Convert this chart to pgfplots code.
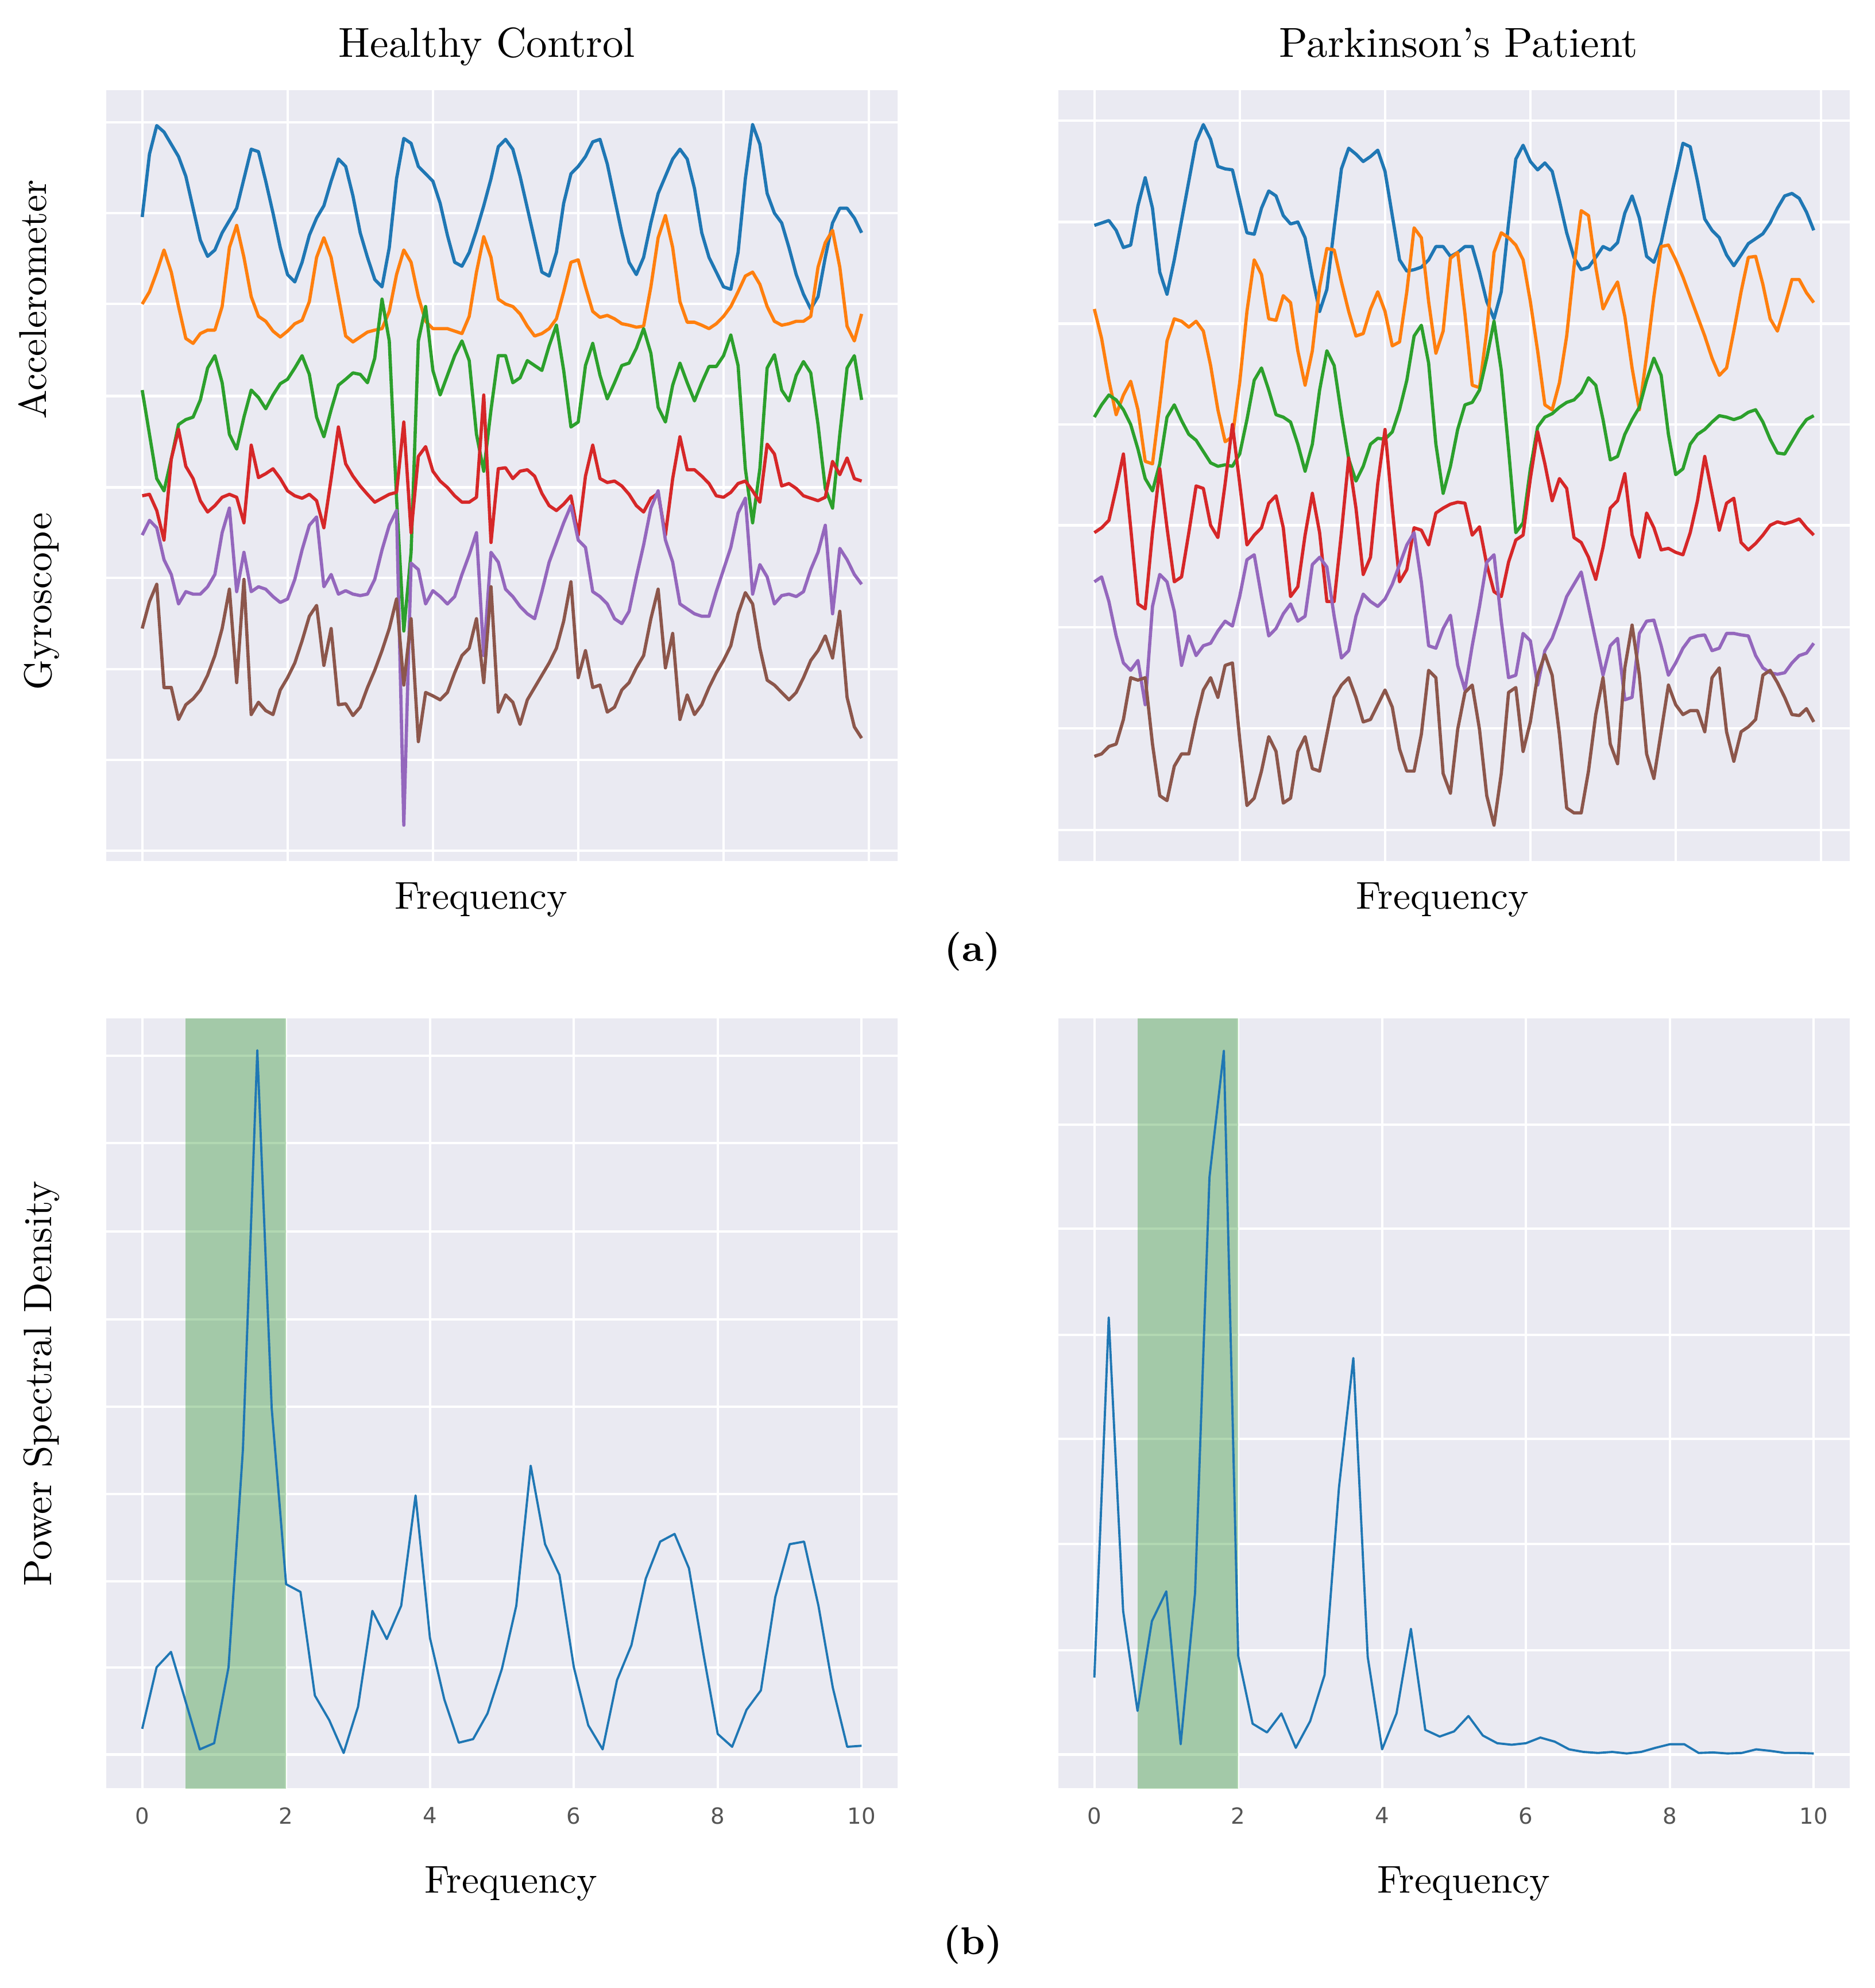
\documentclass[border=0pt]{standalone}
\usepackage{fontspec}
\usepackage{pgfplots}
\usepackage{pgfplotstable}
\pgfplotsset{compat=1.18}
\newfontfamily\dejavu{DejaVu Sans}
\definecolor{bgc}{HTML}{EAEAF2}
\definecolor{cb}{HTML}{1F77B4}
\definecolor{co}{HTML}{FF7F0E}
\definecolor{cg}{HTML}{2CA02C}
\definecolor{cr}{HTML}{D62728}
\definecolor{cp}{HTML}{9467BD}
\definecolor{cn}{HTML}{8C564B}
\definecolor{tickgray}{HTML}{555555}
\definecolor{bandg}{HTML}{008000}

\pgfplotstableread{
i b o g r p n
0 258 435 610 825 905 1095
1 130 410 700 822 875 1040
2 72 370 790 855 890 1005
3 85 325 815 915 955 1215
4 110 370 750 750 985 1215
5 135 440 680 690 1045 1280
6 175 505 670 765 1020 1250
7 240 515 665 790 1025 1238
8 305 495 630 835 1025 1220
9 338 488 565 858 1010 1190
10 325 488 540 845 985 1150
11 290 440 595 828 900 1095
12 265 320 700 822 850 1015
13 240 275 730 828 1020 1205
14 180 340 665 880 940 995
15 120 420 610 722 1020 1270
16 125 460 625 788 1010 1245
17 185 470 648 780 1015 1262
18 250 490 620 770 1030 1270
19 320 502 597 790 1042 1220
20 375 490 588 815 1035 1195
21 390 475 565 825 995 1165
22 350 468 540 830 935 1120
23 295 430 578 822 885 1070
24 260 340 665 835 868 1048
25 235 300 705 890 1010 1170
26 185 340 650 790 985 1095
27 140 420 600 685 1025 1250
28 155 500 588 760 1018 1248
29 215 512 575 785 1025 1272
30 290 502 578 805 1028 1255
31 340 492 595 822 1025 1215
32 385 488 545 838 995 1180
33 400 485 425 830 935 1140
34 320 450 510 822 885 1095
35 180 375 830 818 855 1035
36 98 325 1100 675 1495 1210
37 108 350 940 900 962 1075
38 155 420 510 745 975 1325
39 170 470 440 725 1045 1225
40 185 485 570 775 1018 1232
41 230 485 620 795 1030 1240
42 295 485 580 808 1045 1225
43 350 490 540 825 1030 1185
44 358 495 510 838 985 1150
45 330 460 550 838 945 1135
46 285 370 700 828 900 1075
47 235 298 775 620 1150 1205
48 180 340 650 920 940 1010
49 115 425 540 770 960 1265
50 100 435 540 768 1015 1230
51 120 440 595 790 1030 1245
52 175 455 585 775 1050 1290
53 240 480 550 772 1065 1240
54 305 500 560 785 1075 1215
55 370 495 570 820 1020 1190
56 378 485 520 845 960 1165
57 330 465 478 855 920 1135
58 230 410 570 842 880 1080
59 170 350 685 825 845 1000
60 155 345 675 905 915 1195
61 135 400 560 785 930 1140
62 105 450 515 722 1020 1215
63 100 462 580 790 1030 1210
64 150 458 628 798 1045 1265
65 220 465 595 795 1075 1255
66 290 475 560 805 1085 1220
67 350 478 555 822 1060 1205
68 375 482 525 845 990 1175
69 340 480 485 858 925 1150
70 270 400 535 830 850 1075
71 210 300 645 820 815 1015
72 175 255 675 905 915 1175
73 140 320 600 790 960 1105
74 120 430 555 705 1045 1280
75 140 472 595 772 1055 1230
76 200 472 632 772 1065 1270
77 290 478 595 785 1070 1250
78 340 485 562 800 1070 1215
79 370 475 562 825 1020 1185
80 400 460 540 828 975 1160
81 405 440 498 818 930 1130
82 330 410 560 800 860 1065
83 180 378 770 795 830 1022
84 70 370 880 815 1025 1045
85 110 395 770 838 965 1135
86 210 440 565 720 990 1200
87 250 470 538 740 1045 1210
88 270 478 610 805 1028 1225
89 320 475 632 800 1025 1240
90 375 470 580 810 1030 1225
91 415 470 552 825 1020 1195
92 445 460 575 830 975 1160
93 420 360 680 835 940 1140
94 340 310 810 828 885 1110
95 270 285 850 755 1065 1155
96 240 360 700 782 932 1060
97 240 480 565 748 955 1235
98 260 510 540 790 985 1295
99 290 455 630 795 1005 1318
}\tl

\pgfplotstableread{
i b o g r p n
0 275 445 665 900 1000 1355
1 270 505 640 890 990 1350
2 265 590 620 875 1040 1335
3 285 660 630 810 1110 1330
4 320 620 650 740 1165 1280
5 315 592 680 890 1180 1195
6 235 650 730 1045 1160 1200
7 178 755 790 1055 1250 1195
8 240 760 815 900 1050 1330
9 370 640 760 770 985 1435
10 415 510 665 890 1000 1445
11 345 465 640 1000 1060 1375
12 265 470 672 990 1170 1350
13 185 482 700 900 1110 1350
14 105 470 712 805 1150 1280
15 70 490 735 810 1130 1220
16 100 560 758 885 1125 1195
17 155 650 765 910 1100 1235
18 160 715 762 800 1080 1170
19 162 705 765 680 1090 1165
20 225 595 740 800 1030 1320
21 290 450 670 925 955 1455
22 293 345 590 905 945 1440
23 240 375 565 890 1030 1385
24 205 465 610 840 1110 1315
25 215 468 660 825 1095 1345
26 255 418 665 890 1065 1450
27 272 432 675 1030 1045 1440
28 268 530 720 1010 1080 1345
29 300 600 775 905 1070 1315
30 380 530 720 820 965 1380
31 450 400 610 900 950 1385
32 405 322 530 1040 970 1310
33 280 325 560 1040 1070 1235
34 160 390 660 900 1155 1210
35 118 450 750 748 1140 1195
36 130 500 795 850 1070 1235
37 145 495 765 985 1025 1285
38 135 445 720 950 1040 1280
39 122 410 708 800 1050 1250
40 165 450 710 690 1035 1220
41 255 520 695 850 1005 1255
42 345 512 650 1000 965 1340
43 368 410 590 975 925 1385
44 365 280 500 890 900 1385
45 360 300 478 895 1000 1310
46 345 430 555 925 1130 1180
47 318 535 720 860 1135 1195
48 318 490 820 850 1095 1390
49 338 342 765 842 1068 1430
50 330 330 690 838 1170 1300
51 318 455 640 840 1220 1225
52 318 600 635 905 1130 1210
53 370 605 610 888 1050 1300
54 430 490 545 965 960 1435
55 465 330 470 1020 945 1495
56 410 290 570 1030 1080 1390
57 270 300 730 960 1195 1225
58 140 315 900 915 1190 1215
59 112 345 880 905 1105 1345
60 145 430 770 790 1120 1285
61 162 530 685 695 1210 1190
62 148 640 665 760 1140 1148
63 165 650 658 835 1115 1190
64 225 595 645 790 1075 1310
65 290 500 635 810 1030 1460
66 340 360 630 910 1005 1470
67 365 245 615 920 980 1470
68 360 255 585 950 1050 1385
69 340 360 600 995 1120 1270
70 318 445 670 930 1190 1195
71 325 415 752 850 1130 1330
72 310 390 745 835 1115 1370
73 250 460 700 780 1240 1175
74 215 565 670 905 1235 1088
75 260 650 645 950 1105 1190
76 338 540 590 860 1080 1350
77 350 420 545 890 1078 1400
78 310 318 580 935 1130 1305
79 240 315 700 932 1190 1210
80 175 345 782 940 1165 1250
81 108 380 770 945 1135 1270
82 115 420 720 900 1115 1262
83 185 460 700 835 1110 1262
84 262 500 690 745 1108 1305
85 285 545 675 820 1140 1195
86 300 580 662 895 1135 1175
87 335 565 665 840 1105 1305
88 357 490 670 830 1105 1365
89 335 410 665 920 1108 1305
90 312 340 655 935 1110 1295
91 302 338 650 922 1150 1280
92 292 395 675 905 1175 1190
93 270 465 710 885 1185 1180
94 240 490 738 878 1188 1205
95 215 440 740 882 1185 1235
96 210 385 715 878 1165 1270
97 220 385 690 872 1150 1272
98 248 412 670 890 1145 1258
99 285 432 662 905 1125 1285
}\tr

\pgfplotstableread{
f h p
0 50 150
0.2 170 852
0.4 200 280
0.6 105 85
0.8 10 260
1.0 22 318
1.2 170 20
1.4 595 315
1.6 1373 1125
1.8 675 1372
2.0 332 192
2.2 317 60
2.4 115 43
2.6 67 80
2.8 3 13
3.0 93 65
3.2 280 155
3.4 225 520
3.6 290 773
3.8 505 190
4.0 227 10
4.2 107 80
4.4 23 245
4.6 30 48
4.8 80 35
5.0 167 45
5.2 290 75
5.4 563 37
5.6 410 22
5.8 350 19
6.0 170 22
6.2 57 33
6.4 10 25
6.6 145 10
6.8 213 5
7.0 343 3
7.2 415 5
7.4 430 2
7.6 363 5
7.8 197 13
8.0 40 20
8.2 15 20
8.4 87 3
8.6 125 4
8.8 307 2
9.0 410 3
9.2 415 10
9.4 290 7
9.6 130 3
9.8 15 3
10.0 17 2
}\psd

\pgfplotsset{
  sns/.style={scale only axis, width=6.89cm,
    axis background/.style={fill=bgc},
    axis line style={draw=none}, tick style={draw=none}, major tick length=0pt,
    grid=major, grid style={white, line width=0.6pt}, clip=true},
  top/.style={sns, height=6.71cm, xmin=-4.95, xmax=103.95, ymin=0, ymax=1568, y dir=reverse,
    xtick={0,20,...,100}, xticklabels={}, yticklabels={},
    every axis plot/.append style={line width=0.8pt, line join=round}},
  bot/.style={sns, height=6.70cm, xmin=-0.5, xmax=10.5, ymin=-65.6, ymax=1435,
    xtick={0,2,...,10}, yticklabels={},
    /pgf/number format/assume math mode=true,
    xticklabel style={font=\dejavu\fontsize{5.5}{6}\selectfont, text=tickgray, yshift=-1.2pt},
    every axis plot/.append style={line width=0.55pt, line join=round}},
}

\begin{document}
\begin{tikzpicture}
\useasboundingbox (0,0) rectangle (16.325,-17.305);

\begin{axis}[top, at={(0.925cm,-0.785cm)}, anchor=north west,
  ytick={65,250,435,622,808,992,1178,1362,1547}]
\addplot[cb] table[x=i,y=b]{\tl};
\addplot[co] table[x=i,y=o]{\tl};
\addplot[cg] table[x=i,y=g]{\tl};
\addplot[cr] table[x=i,y=r]{\tl};
\addplot[cp] table[x=i,y=p]{\tl};
\addplot[cn] table[x=i,y=n]{\tl};
\end{axis}

\begin{axis}[top, at={(9.215cm,-0.785cm)}, anchor=north west,
  ytick={62,268,475,680,885,1092,1298,1505}]
\addplot[cb] table[x=i,y=b]{\tr};
\addplot[co] table[x=i,y=o]{\tr};
\addplot[cg] table[x=i,y=g]{\tr};
\addplot[cr] table[x=i,y=r]{\tr};
\addplot[cp] table[x=i,y=p]{\tr};
\addplot[cn] table[x=i,y=n]{\tr};
\end{axis}

\begin{axis}[bot, at={(0.925cm,-8.865cm)}, anchor=north west,
  ytick={0,170,338,508,678,848,1020,1192,1362}]
\addplot[draw=none, fill=bandg, fill opacity=0.3] coordinates {(0.6,-100) (2,-100) (2,1500) (0.6,1500)};
\addplot[cb] table[x=f,y=h]{\psd};
\end{axis}

\begin{axis}[bot, at={(9.215cm,-8.865cm)}, anchor=north west,
  ytick={0,203,410,615,818,1025,1228}]
\addplot[draw=none, fill=bandg, fill opacity=0.3] coordinates {(0.6,-100) (2,-100) (2,1500) (0.6,1500)};
\addplot[cb] table[x=f,y=p]{\psd};
\end{axis}

\begin{scope}[every node/.style={inner sep=0pt, anchor=base}]
\node[font=\fontsize{10.4}{12}\selectfont] at (4.24,-0.495) {Healthy Control};
\node[font=\fontsize{10.4}{12}\selectfont] at (12.70,-0.495) {Parkinson’s Patient};
\node[font=\fontsize{9.6}{11}\selectfont] at (4.19,-7.91) {Frequency};
\node[font=\fontsize{9.6}{11}\selectfont] at (12.56,-7.91) {Frequency};
\node[font=\bfseries\fontsize{9.6}{11}\selectfont] at (8.47,-8.365) {(a)};
\node[font=\fontsize{9.6}{11}\selectfont, rotate=90] at (0.40,-2.605) {Accelerometer};
\node[font=\fontsize{9.6}{11}\selectfont, rotate=90] at (0.445,-5.235) {Gyroscope};
\node[font=\fontsize{9.8}{11}\selectfont, rotate=90] at (0.45,-12.045) {Power Spectral Density};
\node[font=\fontsize{9.6}{11}\selectfont] at (4.45,-16.475) {Frequency};
\node[font=\fontsize{9.6}{11}\selectfont] at (12.745,-16.475) {Frequency};
\node[font=\bfseries\fontsize{9.6}{11}\selectfont] at (8.47,-17.01) {(b)};
\end{scope}
\end{tikzpicture}
\end{document}
